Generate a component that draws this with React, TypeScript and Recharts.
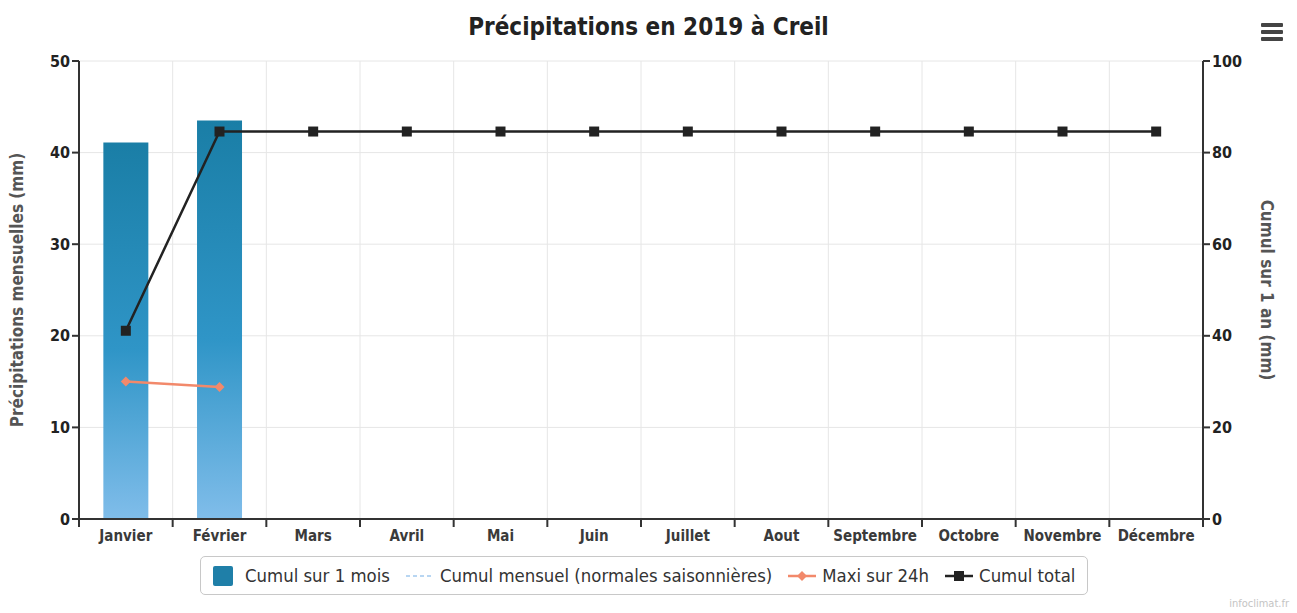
import { ComposedChart, Bar, Line, XAxis, YAxis, CartesianGrid, Label } from 'recharts';

const months = ['Janvier', 'Février', 'Mars', 'Avril', 'Mai', 'Juin', 'Juillet', 'Aout', 'Septembre', 'Octobre', 'Novembre', 'Décembre'];
const cumulMois = [41.1, 43.5, null, null, null, null, null, null, null, null, null, null];
const normales = [null, null, null, null, null, null, null, null, null, null, null, null];
const maxi24h = [15.0, 14.4, null, null, null, null, null, null, null, null, null, null];
const cumulTotal = [41.1, 84.6, 84.6, 84.6, 84.6, 84.6, 84.6, 84.6, 84.6, 84.6, 84.6, 84.6];
const leftTicks = [0, 10, 20, 30, 40, 50];
const rightTicks = [0, 20, 40, 60, 80, 100];

const W = 1297;
const H = 613;
const LEFT_W = 79;
const RIGHT_W = 94;
const TOP = 61;
const BAND = (W - LEFT_W - RIGHT_W) / months.length;

const FONT = '"DejaVu Sans Condensed", "DejaVu Sans", sans-serif';

const data = months.map((m, i) => ({
    month: m,
    mois: cumulMois[i],
    normale: normales[i],
    maxi: maxi24h[i],
    total: cumulTotal[i],
}));

// category tick: label at centre, tick mark at the category boundary (Highcharts style)
function MonthTick(props: any) {
    const { x, y, payload, index } = props;
    const half = BAND / 2;
    return (
        <g>
            <line x1={x - half} x2={x - half} y1={y - 8} y2={y} stroke="#333" strokeWidth={2} />
            {index === months.length - 1 && (
                <line x1={x + half} x2={x + half} y1={y - 8} y2={y} stroke="#333" strokeWidth={2} />
            )}
            <text x={x} y={y + 14} textAnchor="middle" fill="#3a3a3a" fontSize={15} fontWeight="bold" fontFamily={FONT}>
                {payload.value}
            </text>
        </g>
    );
}

function SquareDot(props: any) {
    const { cx, cy, value } = props;
    if (value == null || cx == null) return null;
    return <rect x={cx - 5} y={cy - 5} width={10} height={10} fill="#222" />;
}

function DiamondDot(props: any) {
    const { cx, cy, value } = props;
    if (value == null || cx == null) return null;
    return <path d={`M${cx},${cy - 5} L${cx + 5},${cy} L${cx},${cy + 5} L${cx - 5},${cy} Z`} fill="#f2896b" />;
}

function LegendBox() {
    const item = { display: 'flex', alignItems: 'center', marginRight: 14 } as const;
    return (
        <div
            style={{
                position: 'absolute', left: 200, top: 556, width: 888, height: 39,
                border: '1px solid #c8c8c8', borderRadius: 5, boxSizing: 'border-box',
                display: 'flex', alignItems: 'center', paddingLeft: 12,
                fontFamily: FONT, fontSize: 18.4, color: '#333', whiteSpace: 'nowrap',
            }}
        >
            <div style={item}>
                <div style={{ width: 20, height: 20, background: '#1f7fa8', borderRadius: 2, marginRight: 12 }} />
                Cumul sur 1 mois
            </div>
            <div style={item}>
                <svg width={32} height={10} style={{ marginRight: 4 }}>
                    <line x1={2} x2={30} y1={5} y2={5} stroke="#b8d6f2" strokeWidth={2} strokeDasharray="4 3" />
                </svg>
                Cumul mensuel (normales saisonnières)
            </div>
            <div style={item}>
                <svg width={32} height={12} style={{ marginRight: 4 }}>
                    <line x1={2} x2={30} y1={6} y2={6} stroke="#f2896b" strokeWidth={2.5} />
                    <path d="M16,1 L21,6 L16,11 L11,6 Z" fill="#f2896b" />
                </svg>
                Maxi sur 24h
            </div>
            <div style={item}>
                <svg width={32} height={12} style={{ marginRight: 4 }}>
                    <line x1={2} x2={30} y1={6} y2={6} stroke="#222" strokeWidth={2.5} />
                    <rect x={11} y={1} width={10} height={10} fill="#222" />
                </svg>
                Cumul total
            </div>
        </div>
    );
}

export default function App() {
    return (
        <div style={{ position: 'absolute', left: 0, top: 0, width: W, height: H, background: '#fff' }}>
            <div
                style={{
                    position: 'absolute', left: 0, top: 13, width: W, textAlign: 'center',
                    fontFamily: FONT, fontSize: 24, fontWeight: 'bold', color: '#222',
                }}
            >
                Précipitations en 2019 à Creil
            </div>
            <svg width={22} height={18} style={{ position: 'absolute', left: 1261, top: 23 }}>
                <rect x={0} y={0} width={22} height={4} rx={1} fill="#444" />
                <rect x={0} y={7} width={22} height={4} rx={1} fill="#444" />
                <rect x={0} y={14} width={22} height={4} rx={1} fill="#444" />
            </svg>
            <ComposedChart
                width={W}
                height={H}
                data={data}
                margin={{ top: TOP, right: 0, bottom: 64, left: 0 }}
                barCategoryGap="26%"
            >
                <defs>
                    <linearGradient id="barGrad" x1="0" y1="0" x2="0" y2="1">
                        <stop offset="0%" stopColor="#1a7ea6" />
                        <stop offset="55%" stopColor="#2f95c7" />
                        <stop offset="100%" stopColor="#80bdea" />
                    </linearGradient>
                </defs>
                <CartesianGrid
                    stroke="#e6e6e6"
                    yAxisId="left"
                    verticalCoordinatesGenerator={({ offset }: any) =>
                        months.map((_, i) => offset.left + (i + 1) * (offset.width / months.length))
                    }
                />
                <XAxis
                    dataKey="month"
                    height={30}
                    interval={0}
                    axisLine={{ stroke: '#333', strokeWidth: 2 }}
                    tickLine={false}
                    tick={<MonthTick />}
                />
                <YAxis
                    yAxisId="left"
                    width={LEFT_W}
                    domain={[0, 50]}
                    ticks={leftTicks}
                    axisLine={{ stroke: '#333', strokeWidth: 2 }}
                    tickLine={{ stroke: '#333', strokeWidth: 2 }}
                    tickSize={7}
                    tick={{ fill: '#222', fontSize: 16, fontWeight: 'bold', fontFamily: FONT }}
                >
                    <Label
                        value="Précipitations mensuelles (mm)"
                        angle={-90}
                        position="insideLeft"
                        offset={17}
                        style={{ textAnchor: 'middle', fill: '#555', fontSize: 17, fontWeight: 'bold', fontFamily: FONT }}
                    />
                </YAxis>
                <YAxis
                    yAxisId="right"
                    orientation="right"
                    width={RIGHT_W}
                    domain={[0, 100]}
                    ticks={rightTicks}
                    axisLine={{ stroke: '#333', strokeWidth: 2 }}
                    tickLine={{ stroke: '#333', strokeWidth: 2 }}
                    tickSize={7}
                    tick={{ fill: '#222', fontSize: 16, fontWeight: 'bold', fontFamily: FONT }}
                >
                    <Label
                        value="Cumul sur 1 an (mm)"
                        angle={90}
                        position="insideRight"
                        offset={30}
                        style={{ textAnchor: 'middle', fill: '#555', fontSize: 17, fontWeight: 'bold', fontFamily: FONT }}
                    />
                </YAxis>
                <Bar yAxisId="left" dataKey="mois" fill="url(#barGrad)" isAnimationActive={false} />
                <Line
                    yAxisId="left"
                    dataKey="normale"
                    stroke="#b8d6f2"
                    strokeDasharray="4 3"
                    dot={false}
                    isAnimationActive={false}
                />
                <Line
                    yAxisId="left"
                    dataKey="maxi"
                    stroke="#f2896b"
                    strokeWidth={2.5}
                    dot={<DiamondDot />}
                    activeDot={false}
                    isAnimationActive={false}
                />
                <Line
                    yAxisId="right"
                    dataKey="total"
                    stroke="#222"
                    strokeWidth={2.5}
                    dot={<SquareDot />}
                    activeDot={false}
                    isAnimationActive={false}
                />
            </ComposedChart>
            <LegendBox />
            <div
                style={{
                    position: 'absolute', right: 8, top: 597, fontFamily: FONT,
                    fontSize: 11, color: '#c4c4c4',
                }}
            >
                infoclimat.fr
            </div>
        </div>
    );
}
